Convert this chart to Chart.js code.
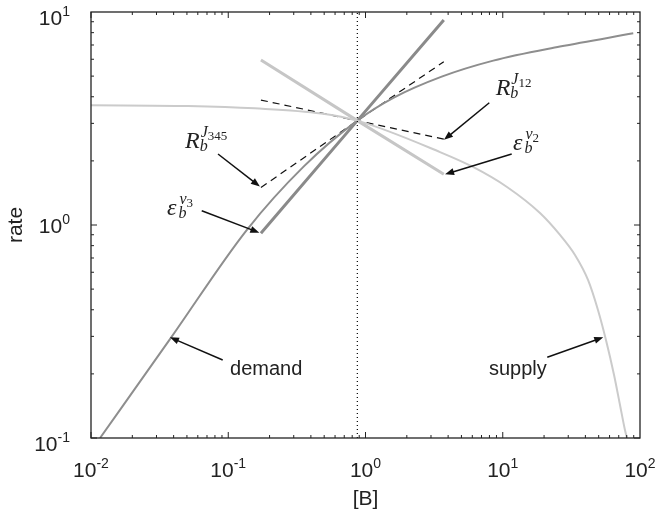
<!DOCTYPE html>
<html>
<head>
<meta charset="utf-8">
<script src="https://cdn.jsdelivr.net/npm/chart.js@4.4.1/dist/chart.umd.min.js"></script>
<style>
  html, body { margin: 0; padding: 0; background: #fff; }
</style>
</head>
<body>
<canvas id="chart" width="659" height="516"></canvas>
<script>
// curves: [B] against rate
const demandB    = [0.01164, 0.0383, 0.1363, 0.354, 0.872, 1.595, 3.59, 8.53, 26.1, 89.3];
const demandRate = [0.1, 0.296, 0.947, 1.88, 3.09, 3.95, 4.97, 5.91, 6.88, 7.94];
const supplyB    = [0.01, 0.0509, 0.156, 0.476, 0.872, 3.49, 6.07, 10.74, 18.68, 26.13, 33.6, 41.8, 49.4, 56.5, 64.7, 71.5, 77.7, 80.4];
const supplyRate = [3.65, 3.62, 3.53, 3.34, 3.09, 2.20, 1.873, 1.508, 1.138, 0.898, 0.723, 0.552, 0.399, 0.2885, 0.1976, 0.1429, 0.109, 0.1];

// straight (power law) tangents through the steady state
const tangentB  = [0.173, 0.872, 3.72];
const epsV3Rate = [0.914, 3.09, 9.17];
const epsV2Rate = [5.95, 3.09, 1.73];
const rJ345Rate = [1.50, 3.09, 5.84];
const rJ12Rate  = [3.86, 3.09, 2.53];

const steadyB = 0.872;
const xTickExps = [-2, -1, 0, 1, 2];
const yTickExps = [-1, 0, 1];

const pts = (xs, ys) => xs.map((x, i) => ({ x, y: ys[i] }));

// labels: text anchor and arrow (from -> tip), in data units
const notes = [
    { math: ['R', 'b', 'J', '345'], at: [0.0484, 2.30], from: [0.0842, 2.154], tip: [0.170, 1.516] },
    { math: ['ε', 'b', 'v', '3'],   at: [0.0358, 1.114], from: [0.0641, 1.167], tip: [0.1684, 0.920] },
    { math: ['R', 'b', 'J', '12'],  at: [8.88, 4.08], from: [7.98, 3.75], tip: [3.73, 2.51] },
    { math: ['ε', 'b', 'v', '2'],   at: [11.88, 2.25], from: [11.62, 2.154], tip: [3.80, 1.73] },
    { text: 'demand', at: [0.103, 0.1977], from: [0.0911, 0.2324], tip: [0.0376, 0.297] },
    { text: 'supply', at: [7.94, 0.1977], from: [21.1, 0.2393], tip: [54.0, 0.297] },
];

function arrow(ctx, x0, y0, x1, y1) {
    const a = Math.atan2(y1 - y0, x1 - x0);
    const len = 9, half = 3.5;
    ctx.beginPath();
    ctx.moveTo(x0, y0);
    ctx.lineTo(x1 - Math.cos(a) * len * 0.8, y1 - Math.sin(a) * len * 0.8);
    ctx.stroke();
    ctx.beginPath();
    ctx.moveTo(x1, y1);
    ctx.lineTo(x1 - Math.cos(a) * len - Math.sin(a) * half, y1 - Math.sin(a) * len + Math.cos(a) * half);
    ctx.lineTo(x1 - Math.cos(a) * len + Math.sin(a) * half, y1 - Math.sin(a) * len - Math.cos(a) * half);
    ctx.closePath();
    ctx.fill();
}

function mathLabel(ctx, x, y, [base, sub, sup, supSub]) {
    ctx.textBaseline = 'alphabetic';
    ctx.textAlign = 'left';
    ctx.font = 'italic 24px "Liberation Serif"';
    ctx.fillText(base, x, y);
    const x1 = x + ctx.measureText(base).width + (base === 'R' ? 0 : 2);
    ctx.font = 'italic 16px "Liberation Serif"';
    ctx.fillText(sub, x1, y + 3);
    ctx.fillText(sup, x1 + 1, y - 11);
    const x2 = x1 + 1 + ctx.measureText(sup).width;
    ctx.font = '13px "Liberation Serif"';
    ctx.fillText(supSub, x2, y - 8);
}

function powerLabel(ctx, x, y, exp, align) {
    ctx.textBaseline = 'alphabetic';
    ctx.textAlign = 'left';
    ctx.font = '21px "Liberation Sans"';
    const w0 = ctx.measureText('10').width;
    ctx.font = '14px "Liberation Sans"';
    const e = String(exp);
    const w1 = ctx.measureText(e).width;
    const left = align === 'center' ? x - (w0 + w1) / 2 : x - w0 - w1;
    ctx.font = '21px "Liberation Sans"';
    ctx.fillText('10', left, y);
    ctx.font = '14px "Liberation Sans"';
    ctx.fillText(e, left + w0, y - 9);
}

const frame = {
    id: 'frame',
    afterDraw(chart) {
        const { ctx, chartArea: a, scales: { x, y } } = chart;
        ctx.save();
        ctx.strokeStyle = '#222';
        ctx.fillStyle = '#222';
        ctx.lineWidth = 1.3;
        ctx.strokeRect(a.left, a.top, a.right - a.left, a.bottom - a.top);

        ctx.lineWidth = 1;
        ctx.beginPath();
        for (let e = xTickExps[0]; e < xTickExps[xTickExps.length - 1]; e++) {
            for (let m = 1; m < 10; m++) {
                const px = x.getPixelForValue(m * Math.pow(10, e));
                const len = m === 1 ? 6 : 3;
                ctx.moveTo(px, a.bottom); ctx.lineTo(px, a.bottom - len);
                ctx.moveTo(px, a.top); ctx.lineTo(px, a.top + len);
            }
        }
        for (let e = yTickExps[0]; e < yTickExps[yTickExps.length - 1]; e++) {
            for (let m = 1; m < 10; m++) {
                const py = y.getPixelForValue(m * Math.pow(10, e));
                const len = m === 1 ? 6 : 3;
                ctx.moveTo(a.left, py); ctx.lineTo(a.left + len, py);
                ctx.moveTo(a.right, py); ctx.lineTo(a.right - len, py);
            }
        }
        ctx.stroke();

        for (const e of xTickExps) {
            powerLabel(ctx, x.getPixelForValue(Math.pow(10, e)), a.bottom + 39, e, 'center');
        }
        for (const e of yTickExps) {
            const py = y.getPixelForValue(Math.pow(10, e));
            const edge = e === yTickExps[0] || e === yTickExps[yTickExps.length - 1];
            powerLabel(ctx, 70, py + (edge ? 13 : 8), e, 'right');
        }

        ctx.strokeStyle = '#111';
        ctx.lineWidth = 1.5;
        for (const n of notes) {
            ctx.fillStyle = '#111';
            arrow(ctx, x.getPixelForValue(n.from[0]), y.getPixelForValue(n.from[1]),
                  x.getPixelForValue(n.tip[0]), y.getPixelForValue(n.tip[1]));
            const tx = x.getPixelForValue(n.at[0]), ty = y.getPixelForValue(n.at[1]);
            ctx.fillStyle = '#222';
            if (n.math) {
                mathLabel(ctx, tx, ty, n.math);
            } else {
                ctx.font = '20px "Liberation Sans"';
                ctx.textAlign = 'left';
                ctx.textBaseline = 'alphabetic';
                ctx.fillText(n.text, tx, ty);
            }
        }
        ctx.restore();
    }
};

const line = (data, color, width, extra) => Object.assign({
    data, borderColor: color, borderWidth: width, pointRadius: 0,
    fill: false, tension: 0,
}, extra);

new Chart(document.getElementById('chart').getContext('2d'), {
    type: 'line',
    data: {
        datasets: [
            line([{ x: steadyB, y: 0.1 }, { x: steadyB, y: 10 }], '#000', 1.2, { borderDash: [1, 3] }),
            line(pts(supplyB, supplyRate), '#cbcbcb', 2, { cubicInterpolationMode: 'monotone' }),
            line(pts(demandB, demandRate), '#8e8e8e', 2, { cubicInterpolationMode: 'monotone' }),
            line(pts(tangentB, epsV2Rate), '#c6c6c6', 3),
            line(pts(tangentB, epsV3Rate), '#8a8a8a', 3),
            line(pts(tangentB, rJ345Rate), '#111', 1.2, { borderDash: [7, 5] }),
            line(pts(tangentB, rJ12Rate), '#111', 1.2, { borderDash: [7, 5] }),
        ]
    },
    options: {
        responsive: false,
        devicePixelRatio: 1,
        animation: false,
        layout: { padding: { left: 0, top: 12, right: 19, bottom: 0 } },
        plugins: { legend: { display: false }, tooltip: { enabled: false } },
        scales: {
            x: {
                type: 'logarithmic', min: 0.01, max: 100,
                grid: { display: false, drawTicks: false },
                border: { display: false },
                ticks: { display: false },
                title: { display: true, text: '[B]', color: '#222',
                         font: { family: 'Liberation Sans', size: 21 }, padding: { top: 0, bottom: 4 } },
                afterFit: s => { s.height = 78; },
            },
            y: {
                type: 'logarithmic', min: 0.1, max: 10,
                grid: { display: false, drawTicks: false },
                border: { display: false },
                ticks: { display: false },
                title: { display: true, text: 'rate', color: '#222',
                         font: { family: 'Liberation Sans', size: 21 }, padding: { top: 4, bottom: 0 } },
                afterFit: s => { s.width = 91; },
            },
        },
    },
    plugins: [frame],
});
</script>
</body>
</html>
